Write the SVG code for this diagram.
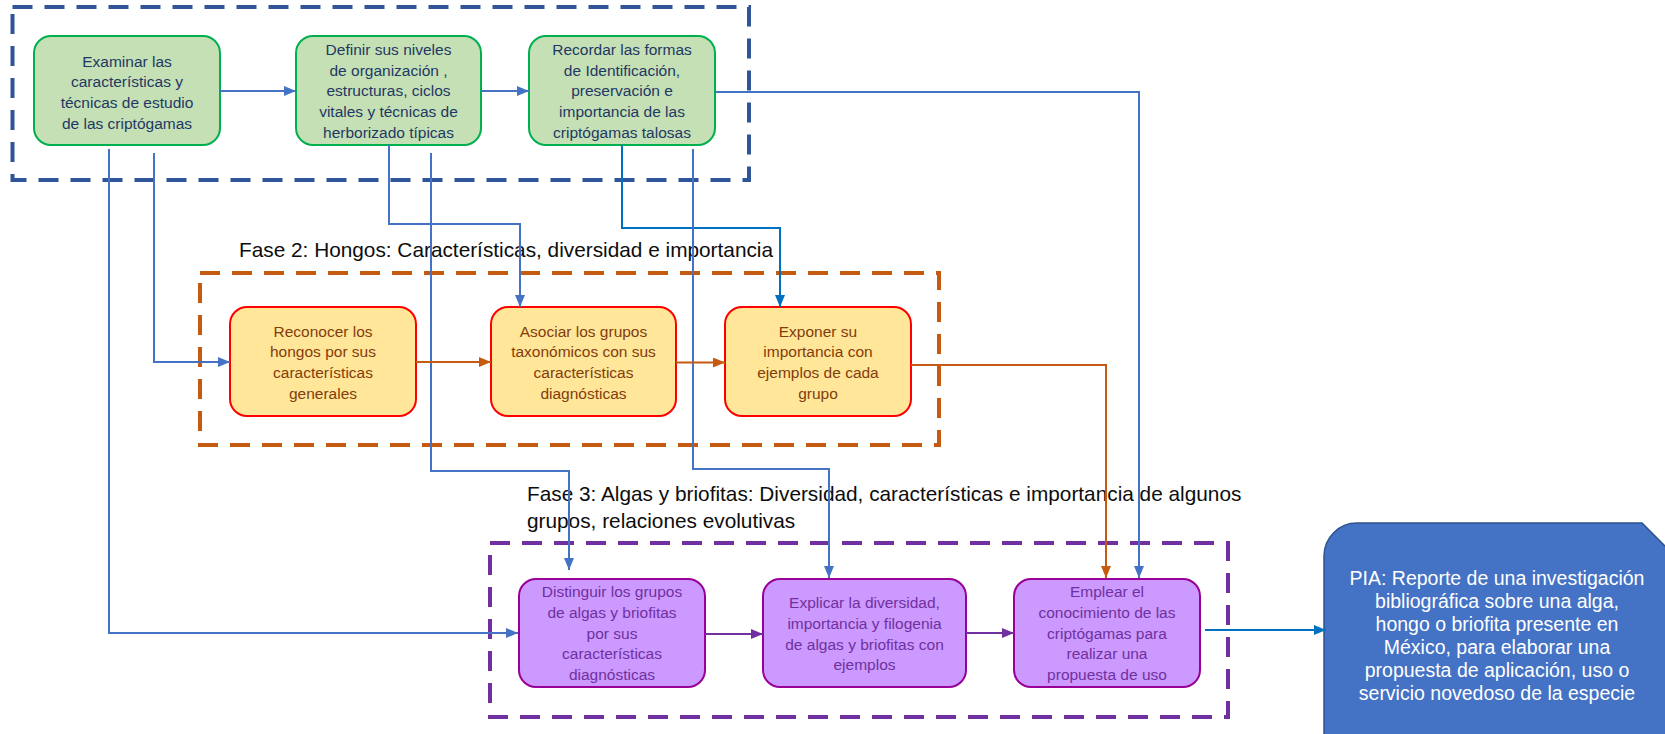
<svg xmlns="http://www.w3.org/2000/svg" width="1665" height="734" viewBox="0 0 1665 734">
<style>
.bx text{font-family:"Liberation Sans",Arial,sans-serif;font-size:15.5px;text-anchor:middle}
.g rect{fill:#C5E0B4;stroke:#00B050;stroke-width:2}
.g text{fill:#1F3864}
.o rect{fill:#FFE699;stroke:#FF0000;stroke-width:2}
.o text{fill:#843C0C}
.p rect{fill:#CC99FF;stroke:#990099;stroke-width:2}
.p text{fill:#7030A0}
.title{font-family:"Liberation Sans",Arial,sans-serif;font-size:20.8px;fill:#0D0D0D}
.dash{fill:none;stroke-width:4;stroke-dasharray:20 12}
.c path{fill:none;stroke-width:2}
.cb{stroke:#4472C4}
.cd{stroke:#0070C0}
.co{stroke:#C55A11}
.cp{stroke:#7030A0}
</style>
<defs>
<marker id="ab" markerUnits="userSpaceOnUse" markerWidth="12" markerHeight="10" refX="12" refY="5" orient="auto"><path d="M0,0 L12,5 L0,10 Z" fill="#4472C4"/></marker>
<marker id="ad" markerUnits="userSpaceOnUse" markerWidth="12" markerHeight="10" refX="12" refY="5" orient="auto"><path d="M0,0 L12,5 L0,10 Z" fill="#0070C0"/></marker>
<marker id="ao" markerUnits="userSpaceOnUse" markerWidth="12" markerHeight="10" refX="12" refY="5" orient="auto"><path d="M0,0 L12,5 L0,10 Z" fill="#C55A11"/></marker>
<marker id="ap" markerUnits="userSpaceOnUse" markerWidth="12" markerHeight="10" refX="12" refY="5" orient="auto"><path d="M0,0 L12,5 L0,10 Z" fill="#7030A0"/></marker>
</defs>
<rect width="1665" height="734" fill="#FFFFFF"/>

<g id="fase1-frame"><rect class="dash" x="12.5" y="7" width="736.5" height="173" stroke="#2F5597"/></g>
<g id="fase2-frame"><rect class="dash" x="200" y="273" width="739" height="172" stroke="#C55A11"/></g>
<g id="fase3-frame"><rect class="dash" x="490" y="543" width="738" height="174" stroke="#7030A0"/></g>

<g id="fase2-title"><text class="title" x="239" y="257">Fase 2: Hongos: Características, diversidad e importancia</text></g>
<g id="fase3-title"><text class="title" x="527" y="501">Fase 3: Algas y briofitas: Diversidad, características e importancia de algunos</text><text class="title" x="527" y="528">grupos, relaciones evolutivas</text></g>

<g id="n1" class="bx g"><rect x="34" y="36" width="186" height="109" rx="17"/>
<text x="127" y="66.5">Examinar las</text><text x="127" y="87.2">características y</text><text x="127" y="107.9">técnicas de estudio</text><text x="127" y="128.5">de las criptógamas</text></g>
<g id="n2" class="bx g"><rect x="296" y="36" width="185" height="109" rx="17"/>
<text x="388.5" y="55">Definir sus niveles</text><text x="388.5" y="75.7">de organización ,</text><text x="388.5" y="96.3">estructuras, ciclos</text><text x="388.5" y="117">vitales y técnicas de</text><text x="388.5" y="137.7">herborizado típicas</text></g>
<g id="n3" class="bx g"><rect x="529" y="36" width="186" height="109" rx="17"/>
<text x="622" y="55">Recordar las formas</text><text x="622" y="75.7">de Identificación,</text><text x="622" y="96.3">preservación e</text><text x="622" y="117">importancia de las</text><text x="622" y="137.7">criptógamas talosas</text></g>

<g id="n4" class="bx o"><rect x="230" y="307" width="186" height="109" rx="17"/>
<text x="323" y="336.5">Reconocer los</text><text x="323" y="357.2">hongos por sus</text><text x="323" y="377.9">características</text><text x="323" y="398.6">generales</text></g>
<g id="n5" class="bx o"><rect x="491" y="307" width="185" height="109" rx="17"/>
<text x="583.5" y="336.5">Asociar los grupos</text><text x="583.5" y="357.2">taxonómicos con sus</text><text x="583.5" y="377.9">características</text><text x="583.5" y="398.6">diagnósticas</text></g>
<g id="n6" class="bx o"><rect x="725" y="307" width="186" height="109" rx="17"/>
<text x="818" y="336.5">Exponer su</text><text x="818" y="357.2">importancia con</text><text x="818" y="377.9">ejemplos de cada</text><text x="818" y="398.6">grupo</text></g>

<g id="n7" class="bx p"><rect x="519" y="579" width="186" height="108" rx="17"/>
<text x="612" y="597">Distinguir los grupos</text><text x="612" y="617.8">de algas y briofitas</text><text x="612" y="638.5">por sus</text><text x="612" y="659.3">características</text><text x="612" y="680">diagnósticas</text></g>
<g id="n8" class="bx p"><rect x="763" y="579" width="203" height="108" rx="17"/>
<text x="864.5" y="608.3">Explicar la diversidad,</text><text x="864.5" y="629">importancia y filogenia</text><text x="864.5" y="649.6">de algas y briofitas con</text><text x="864.5" y="670.2">ejemplos</text></g>
<g id="n9" class="bx p"><rect x="1014" y="579" width="186" height="108" rx="17"/>
<text x="1107" y="597">Emplear el</text><text x="1107" y="617.8">conocimiento de las</text><text x="1107" y="638.5">criptógamas para</text><text x="1107" y="659.3">realizar una</text><text x="1107" y="680">propuesta de uso</text></g>

<g id="pia"><path d="M1324,744 L1324,556 A33,33 0 0 1 1357,523 L1642,523 L1682,563 L1682,744 Z" fill="#4472C4" stroke="#2F528F" stroke-width="1.5"/>
<g font-family="'Liberation Sans',Arial,sans-serif" font-size="19.5" fill="#FFFFFF" text-anchor="middle">
<text x="1497" y="585">PIA: Reporte de una investigación</text><text x="1497" y="608">bibliográfica sobre una alga,</text><text x="1497" y="631">hongo o briofita presente en</text><text x="1497" y="654">México, para elaborar una</text><text x="1497" y="677">propuesta de aplicación, uso o</text><text x="1497" y="700">servicio novedoso de la especie</text></g></g>

<g id="connectors" class="c">
<path class="cb" d="M220,91 H296" marker-end="url(#ab)"/>
<path class="cb" d="M481,91 H529" marker-end="url(#ab)"/>
<path class="cb" d="M715,92 H1139 V578" marker-end="url(#ab)"/>
<path class="cb" d="M109,149 V633 H518" marker-end="url(#ab)"/>
<path class="cb" d="M154,153 V362 H230" marker-end="url(#ab)"/>
<path class="cb" d="M389,145 V224 H520 V307" marker-end="url(#ab)"/>
<path class="cb" d="M431,153 V471 H569 V570" marker-end="url(#ab)"/>
<path class="cd" d="M622,145 V228 H780 V307" marker-end="url(#ad)"/>
<path class="cb" d="M693,149 V469 H829 V578" marker-end="url(#ab)"/>
<path class="co" d="M416,362 H491" marker-end="url(#ao)"/>
<path class="co" d="M676,362.5 H725" marker-end="url(#ao)"/>
<path class="co" d="M911,365 H1106 V578" marker-end="url(#ao)"/>
<path class="cp" d="M705,634 H763" marker-end="url(#ap)"/>
<path class="cp" d="M966,633 H1014" marker-end="url(#ap)"/>
<path class="cd" d="M1205,630 H1326" marker-end="url(#ad)"/>
</g>
</svg>
